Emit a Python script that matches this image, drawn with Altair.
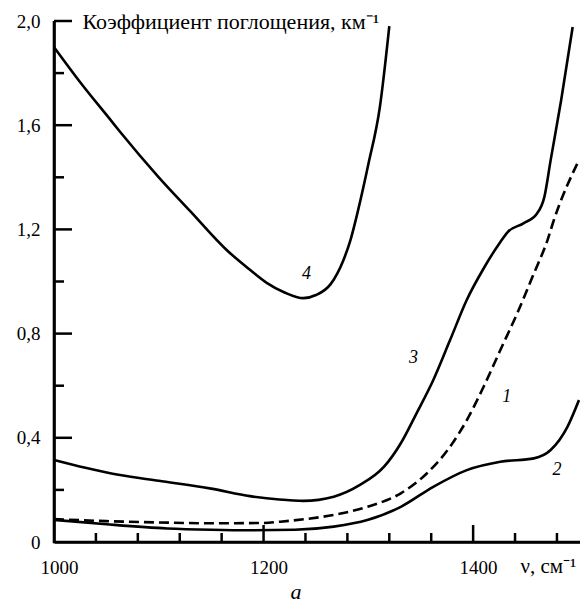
import altair as alt
import pandas as pd

# ---- data ----
C1_X = [1000, 1050, 1100, 1150, 1200, 1216, 1240, 1267, 1299, 1331, 1356, 1378, 1394, 1410, 1426, 1442, 1458, 1471, 1477, 1501]
C1_Y = [0.088, 0.080, 0.075, 0.072, 0.073, 0.078, 0.088, 0.104, 0.135, 0.187, 0.264, 0.366, 0.468, 0.596, 0.737, 0.877, 1.031, 1.159, 1.235, 1.466]

C2_X = [1000, 1050, 1108, 1150, 1187, 1230, 1267, 1299, 1331, 1362, 1394, 1426, 1458, 1474, 1490, 1501]
C2_Y = [0.085, 0.068, 0.052, 0.047, 0.045, 0.047, 0.059, 0.084, 0.135, 0.212, 0.276, 0.308, 0.321, 0.353, 0.442, 0.545]

C3_X = [1000, 1030, 1063, 1100, 1150, 1187, 1215, 1238, 1267, 1292, 1315, 1331, 1346, 1362, 1378, 1394, 1410, 1426, 1433, 1448, 1461, 1468, 1474, 1484, 1495]
C3_Y = [0.315, 0.285, 0.257, 0.235, 0.205, 0.176, 0.163, 0.158, 0.174, 0.219, 0.289, 0.379, 0.494, 0.622, 0.775, 0.93, 1.05, 1.152, 1.19, 1.223, 1.261, 1.325, 1.466, 1.696, 1.977]

C4_X = [1000, 1025, 1053, 1063, 1100, 1130, 1165, 1187, 1203, 1220, 1238, 1250, 1264, 1276, 1283, 1290, 1300, 1311, 1320]
C4_Y = [1.90, 1.765, 1.625, 1.575, 1.40, 1.27, 1.12, 1.045, 0.995, 0.958, 0.936, 0.948, 0.99, 1.08, 1.16, 1.27, 1.45, 1.67, 1.98]

LABEL_TEXT = ["1", "2", "3", "4"]
LABEL_X = [1432, 1480, 1343, 1241]
LABEL_Y = [0.557, 0.275, 0.705, 1.03]

X_DOMAIN = [1000, 1502]
Y_DOMAIN = [0, 2.0]
X_LABELS = [1000, 1200, 1400]
X_MAJOR = [1200, 1400]
X_MINOR = [1040, 1080, 1120, 1160, 1240, 1280, 1320, 1360, 1440, 1480]
Y_LABELS = [0, 0.4, 0.8, 1.2, 1.6, 2.0]
Y_MAJOR = [0.4, 0.8, 1.2, 1.6, 2.0]
Y_MINOR = [0.2, 0.6, 1.0, 1.4, 1.8]

W, H = 526, 521
MAJOR_LEN, MINOR_LEN = 17, 9

rows = []
for name, xs, ys in [("1", C1_X, C1_Y), ("2", C2_X, C2_Y), ("3", C3_X, C3_Y), ("4", C4_X, C4_Y)]:
    for a, b in zip(xs, ys):
        rows.append({"curve": name, "nu": a, "k": b})
df = pd.DataFrame(rows)
lab = pd.DataFrame({"t": LABEL_TEXT, "nu": LABEL_X, "k": LABEL_Y})
frame = pd.DataFrame({
    "nu": [X_DOMAIN[0], X_DOMAIN[0], X_DOMAIN[1]],
    "k": [Y_DOMAIN[1], Y_DOMAIN[0], Y_DOMAIN[0]],
    "o": [0, 1, 2],
})
xt_major = pd.DataFrame({"nu": X_MAJOR})
xt_minor = pd.DataFrame({"nu": X_MINOR})
yt_major = pd.DataFrame({"k": Y_MAJOR})
yt_minor = pd.DataFrame({"k": Y_MINOR})

FONT = "Liberation Serif"
xscale = alt.Scale(domain=X_DOMAIN, nice=False, zero=False)
yscale = alt.Scale(domain=Y_DOMAIN, nice=False, zero=False)

main_x = alt.Axis(orient="bottom", values=X_LABELS, ticks=False, grid=False, domain=True,
                  domainColor="black", domainWidth=2.6,
                  labelFont=FONT, labelFontSize=19, labelColor="black", labelPadding=16, format="d",
                  labelFlush=False, labelOffset=5,
                  title="ν, см⁻¹", titleX=466, titleY=30, titleAlign="left", titleBaseline="alphabetic",
                  titleFont=FONT, titleFontSize=21, titleFontWeight="normal", titleColor="black")
main_y = alt.Axis(orient="left", values=Y_LABELS, ticks=False, grid=False, domain=True,
                  domainColor="black", domainWidth=2.6,
                  labelFont=FONT, labelFontSize=19, labelColor="black", labelPadding=14, labelFlush=False,
                  labelExpr="datum.value == 0 ? '0' : replace(format(datum.value, '.1f'), '.', ',')",
                  title="Коэффициент поглощения, км⁻¹", titleX=28, titleY=0, titleAngle=0,
                  titleAlign="left", titleBaseline="middle", titleFont=FONT, titleFontSize=22,
                  titleFontWeight="normal", titleColor="black")

X_ENC = alt.X("nu:Q", scale=xscale, axis=main_x)
Y_ENC = alt.Y("k:Q", scale=yscale, axis=main_y)

solid = alt.Chart(df).transform_filter(alt.datum.curve != "1").mark_line(
    color="black", strokeWidth=2.6, interpolate="monotone"
).encode(x=X_ENC, y=Y_ENC, detail="curve:N")

dashed = alt.Chart(df).transform_filter(alt.datum.curve == "1").mark_line(
    color="black", strokeWidth=2.6, interpolate="monotone", strokeDash=[10, 5]
).encode(x=X_ENC, y=Y_ENC)

texts = alt.Chart(lab).mark_text(font=FONT, fontSize=18, fontStyle="italic", color="black").encode(
    x=X_ENC, y=Y_ENC, text="t:N",
)

axis_frame = alt.Chart(frame).mark_line(color="black", strokeWidth=2.6).encode(
    x=X_ENC, y=Y_ENC, order="o:Q",
)

def xticks(data, length):
    return alt.Chart(data).mark_rule(color="black", strokeWidth=2.5).encode(
        x=X_ENC,
        y=alt.value(H),
        y2=alt.value(H - length),
    )

def yticks(data, length):
    return alt.Chart(data).mark_rule(color="black", strokeWidth=2.5).encode(
        y=Y_ENC,
        x=alt.value(0),
        x2=alt.value(length),
    )

chart = alt.layer(
    solid, dashed, texts, axis_frame,
    xticks(xt_major, MAJOR_LEN), xticks(xt_minor, MINOR_LEN),
    yticks(yt_major, MAJOR_LEN + 1), yticks(yt_minor, MINOR_LEN + 1),
).properties(
    width=W, height=H,
    autosize=alt.AutoSizeParams(type="none"),
    padding={"left": 54, "top": 21, "right": 0, "bottom": 58},
    title=alt.TitleParams(text="а", orient="bottom", font=FONT, fontSize=22, fontStyle="italic",
                          fontWeight="normal", color="black", anchor="middle", offset=5, dx=-21),
).configure_view(strokeWidth=0)

chart.save("out.html", embed_options={"renderer": "svg", "actions": False})
